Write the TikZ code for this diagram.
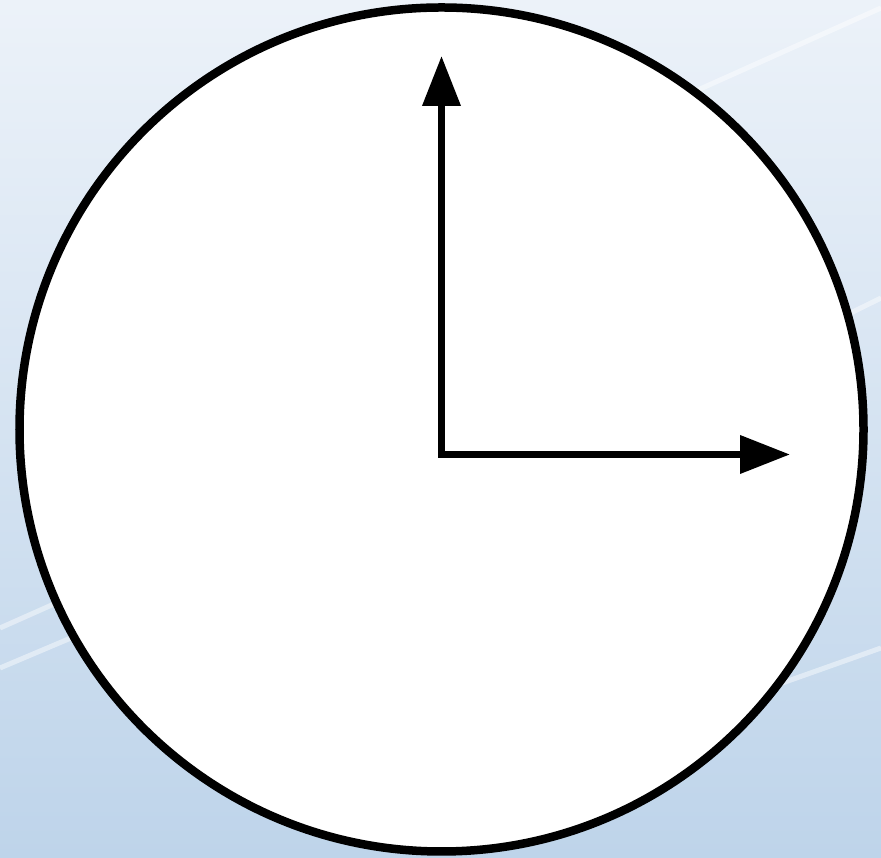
\documentclass[tikz,border=0pt]{standalone}
\usetikzlibrary{arrows.meta}
\definecolor{skytop}{RGB}{236,242,249}
\definecolor{skybottom}{RGB}{190,212,234}
\tikzset{
    axis/.style={line width=0.07cm, -{Triangle[length=0.5cm,width=0.37cm]}},
    streak/.style={white, opacity=0.45, line width=0.05cm}
}
\begin{document}
\begin{tikzpicture}
    % background
    \shade[top color=skytop, bottom color=skybottom] (0,0) rectangle (8.81,8.58);
    \useasboundingbox (0,0) rectangle (8.81,8.58);
    \draw[streak] (0,1.9) -- (2.6,3.0);
    \draw[streak] (0,2.3) -- (1.8,3.1);
    \draw[streak] (6.8,7.6) -- (8.81,8.5);
    \draw[streak] (7.4,1.6) -- (8.81,2.1);
    \draw[streak] (7.6,5.0) -- (8.81,5.6);
    % clock face
    \filldraw[fill=white, draw=black, line width=0.085cm] (4.415,4.285) circle (4.22);
    \coordinate (origin) at (4.415,4.035);
    \coordinate (top) at (4.415,8.02);
    \coordinate (right) at (7.90,4.035);
    \draw[axis] (origin) -- (top);
    \draw[axis] (origin) -- (right);
    \fill (origin) +(-0.035,-0.035) rectangle +(0.035,0.035);
\end{tikzpicture}
\end{document}
